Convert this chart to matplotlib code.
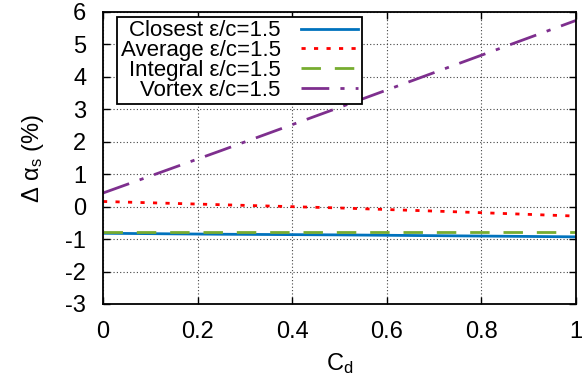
import matplotlib
matplotlib.use("Agg")
import matplotlib.pyplot as plt
import numpy as np

plt.rcParams['font.family'] = ['Liberation Sans', 'DejaVu Sans']
plt.rcParams['mathtext.fontset'] = 'custom'
plt.rcParams['mathtext.rm'] = 'Liberation Sans'
plt.rcParams['mathtext.it'] = 'Liberation Sans'
plt.rcParams['axes.unicode_minus'] = False

cd = [0.0, 0.25, 0.5, 0.75, 1.0]
closest = [-0.82, -0.85, -0.87, -0.90, -0.93]
average = [0.16, 0.06, -0.04, -0.16, -0.29]
integral = [-0.78, -0.78, -0.78, -0.78, -0.78]
vortex = [0.42, 1.73, 3.06, 4.40, 5.74]
labels = ['Closest ε/c=1.5', 'Average ε/c=1.5', 'Integral ε/c=1.5', 'Vortex ε/c=1.5']
xticks = [0, 0.2, 0.4, 0.6, 0.8, 1]
xticklabels = ['0', '0.2', '0.4', '0.6', '0.8', '1']
yticks = [-3, -2, -1, 0, 1, 2, 3, 4, 5, 6]

fig = plt.figure(figsize=(5.86, 3.89), dpi=100)
ax = fig.add_axes([103/586, 1-304/389, (576-103)/586, (304-12)/389])

ax.plot(cd, closest, color='#0072bd', lw=2, label=labels[0])
ax.plot(cd, average, color='#ff0000', lw=2, dashes=(1.5, 3), label=labels[1])
ax.plot(cd, integral, color='#77ac30', lw=2, dashes=(7, 5), label=labels[2])
ax.plot(cd, vortex, color='#7e2f8e', lw=2, dashes=(10, 4, 1.5, 4), label=labels[3])

ax.set_xlim(0, 1)
ax.set_ylim(-3, 6)
ax.set_xticks(xticks)
ax.set_xticklabels(xticklabels)
ax.set_yticks(yticks)
ax.tick_params(direction='in', top=True, right=True, labelsize=17, length=5, width=1)
ax.tick_params(axis='x', pad=12)
ax.tick_params(axis='y', pad=12)
ax.grid(True, color='#444444', linestyle=(0, (1, 2)), lw=0.8)
for s in ax.spines.values():
    s.set_linewidth(1.3)

ax.set_xlabel('C$_\\mathrm{d}$', fontsize=17, labelpad=6)
ax.set_ylabel('Δ α$_\\mathrm{s}$ (%)', fontsize=17, labelpad=14)

leg = ax.legend(loc='upper left', bbox_to_anchor=(0.03, 0.983), fontsize=16, markerfirst=False,
                frameon=True, fancybox=False, edgecolor='black', framealpha=1,
                handlelength=2.6, borderpad=0.15, labelspacing=-0.05, handletextpad=0.9, borderaxespad=0)
leg.get_frame().set_linewidth(1.3)
for t in leg.get_texts():
    t.set_ha('right')

fig.savefig('out.png', dpi=100)
